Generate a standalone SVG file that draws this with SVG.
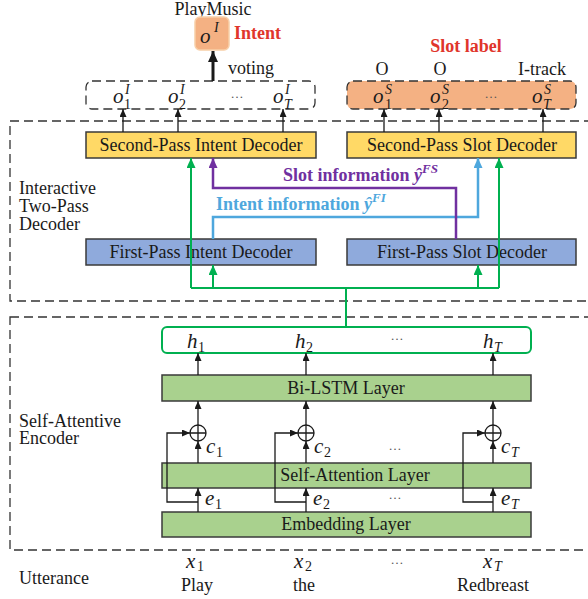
<svg xmlns="http://www.w3.org/2000/svg" width="588" height="599" viewBox="0 0 588 599">
  <style>
    .t { font-family: "Liberation Serif", "Times New Roman", serif; font-size: 18px; fill: #1a1a1a; }
    .b { font-family: "Liberation Serif", "Times New Roman", serif; font-size: 18px; font-weight: bold; }
    .m { font-family: "Liberation Serif", "Times New Roman", serif; font-size: 21px; font-style: italic; fill: #1a1a1a; }
    .sub { font-size: 14px; font-style: normal; }
    .subi { font-size: 14px; font-style: italic; }
    .dots { font-family: "Liberation Serif", serif; font-size: 13px; fill: #555; text-anchor: middle; }
    .frame { fill: none; stroke: #333; stroke-width: 1.3; stroke-dasharray: 9 5; }
    .layer { fill: #a9d18e; stroke: #3a3a3a; stroke-width: 1.5; }
    .dec2 { fill: #ffd966; stroke: #3a3a3a; stroke-width: 1.5; }
    .dec1 { fill: #8faadc; stroke: #3a3a3a; stroke-width: 1.5; }
    .arr { fill: none; stroke: #1a1a1a; stroke-width: 1.3; marker-end: url(#ah); }
    .grn { fill: none; stroke: #00b050; stroke-width: 2; }
    .ctr { text-anchor: middle; }
  </style>
  <defs>
    <marker id="ah" viewBox="0 0 10 10" refX="10" refY="5" markerWidth="8" markerHeight="7" markerUnits="userSpaceOnUse" orient="auto" preserveAspectRatio="none">
      <path d="M0,0 L10,5 L0,10 z" fill="#1a1a1a"/>
    </marker>
    <marker id="ahBig" viewBox="0 0 10 10" refX="10" refY="5" markerWidth="11" markerHeight="10" markerUnits="userSpaceOnUse" orient="auto" preserveAspectRatio="none">
      <path d="M0,0 L10,5 L0,10 z" fill="#1a1a1a"/>
    </marker>
    <marker id="ahG" viewBox="0 0 10 10" refX="10" refY="5" markerWidth="10" markerHeight="9" markerUnits="userSpaceOnUse" orient="auto" preserveAspectRatio="none">
      <path d="M0,0 L10,5 L0,10 z" fill="#00b050"/>
    </marker>
    <marker id="ahP" viewBox="0 0 10 10" refX="10" refY="5" markerWidth="10" markerHeight="9" markerUnits="userSpaceOnUse" orient="auto" preserveAspectRatio="none">
      <path d="M0,0 L10,5 L0,10 z" fill="#7030a0"/>
    </marker>
    <marker id="ahB" viewBox="0 0 10 10" refX="10" refY="5" markerWidth="10" markerHeight="9" markerUnits="userSpaceOnUse" orient="auto" preserveAspectRatio="none">
      <path d="M0,0 L10,5 L0,10 z" fill="#4ea7dd"/>
    </marker>
  </defs>

  <rect width="588" height="599" fill="#ffffff"/>

  <!-- section frames -->
  <g id="decoder-frame">
    <rect class="frame" x="10" y="121" width="590" height="180"/>
    <text class="t" x="19" y="194">Interactive</text>
    <text class="t" x="19" y="212">Two-Pass</text>
    <text class="t" x="19" y="230">Decoder</text>
  </g>
  <g id="encoder-frame">
    <rect class="frame" x="10" y="317" width="590" height="233"/>
    <text class="t" x="19" y="427">Self-Attentive</text>
    <text class="t" x="19" y="444">Encoder</text>
  </g>

  <!-- intent output -->
  <g id="intent-result">
    <text class="t ctr" x="213" y="15">PlayMusic</text>
    <rect x="195" y="17" width="34" height="33" rx="5" fill="#f4b183" stroke="#f8cfa8" stroke-width="1.5"/>
    <text class="m"><tspan x="200" y="43">o</tspan><tspan class="subi" x="214" y="32">I</tspan></text>
    <text class="b" x="234" y="39" fill="#e0352b">Intent</text>
  </g>

  <g id="intent-outputs">
    <rect x="86" y="81" width="229" height="28" rx="6" fill="none" stroke="#333" stroke-width="1.3" stroke-dasharray="9 5"/>
    <text class="m"><tspan x="113" y="103">o</tspan><tspan class="subi" x="125" y="94">I</tspan><tspan class="sub" x="124" y="109">1</tspan></text>
    <text class="m"><tspan x="168" y="103">o</tspan><tspan class="subi" x="180" y="94">I</tspan><tspan class="sub" x="179" y="109">2</tspan></text>
    <text class="dots" x="237" y="98">…</text>
    <text class="m"><tspan x="273" y="103">o</tspan><tspan class="subi" x="285" y="94">I</tspan><tspan class="subi" x="284" y="109">T</tspan></text>
    <text class="t" x="228" y="74">voting</text>
  </g>

  <g id="slot-outputs">
    <text class="b ctr" x="466" y="52" fill="#e0352b">Slot label</text>
    <text class="t ctr" x="382" y="75">O</text>
    <text class="t ctr" x="440" y="75">O</text>
    <text class="t ctr" x="542" y="75">I-track</text>
    <rect x="347" y="81" width="229" height="28" rx="6" fill="#f4b183" stroke="#333" stroke-width="1.3" stroke-dasharray="9 5"/>
    <text class="m"><tspan x="373" y="103">o</tspan><tspan class="subi" x="385" y="94">S</tspan><tspan class="sub" x="385" y="109">1</tspan></text>
    <text class="m"><tspan x="430" y="103">o</tspan><tspan class="subi" x="442" y="94">S</tspan><tspan class="sub" x="442" y="109">2</tspan></text>
    <text class="dots" x="491" y="98">…</text>
    <text class="m"><tspan x="532" y="103">o</tspan><tspan class="subi" x="544" y="94">S</tspan><tspan class="subi" x="543" y="109">T</tspan></text>
  </g>

  <!-- decoders -->
  <g id="second-pass-intent">
    <rect class="dec2" x="86" y="132" width="230" height="26"/>
    <text class="t ctr" x="201" y="151">Second-Pass Intent Decoder</text>
  </g>
  <g id="second-pass-slot">
    <rect class="dec2" x="347" y="132" width="229" height="26"/>
    <text class="t ctr" x="462" y="151">Second-Pass Slot Decoder</text>
  </g>
  <g id="first-pass-intent">
    <rect class="dec1" x="86" y="239" width="230" height="26"/>
    <text class="t ctr" x="201" y="258">First-Pass Intent Decoder</text>
  </g>
  <g id="first-pass-slot">
    <rect class="dec1" x="347" y="239" width="229" height="26"/>
    <text class="t ctr" x="462" y="258">First-Pass Slot Decoder</text>
  </g>

  <!-- encoder layers -->
  <g id="hidden-states">
    <rect x="162" y="327" width="369" height="26" rx="5" fill="#ffffff" stroke="#00b050" stroke-width="2"/>
    <text class="m"><tspan x="187" y="348">h</tspan><tspan class="sub" x="198" y="352">1</tspan></text>
    <text class="m"><tspan x="295" y="348">h</tspan><tspan class="sub" x="306" y="352">2</tspan></text>
    <text class="dots" x="397" y="340">…</text>
    <text class="m"><tspan x="483" y="348">h</tspan><tspan class="subi" x="494" y="352">T</tspan></text>
  </g>
  <g id="bilstm">
    <rect class="layer" x="162" y="375" width="369" height="26"/>
    <text class="t ctr" x="346" y="394">Bi-LSTM Layer</text>
  </g>
  <g id="self-attention">
    <rect class="layer" x="162" y="463" width="369" height="25"/>
    <text class="t ctr" x="355" y="481">Self-Attention Layer</text>
  </g>
  <g id="embedding">
    <rect class="layer" x="162" y="512" width="369" height="25"/>
    <text class="t ctr" x="346" y="530">Embedding Layer</text>
  </g>

  <g id="sum-nodes" fill="#ffffff" stroke="#1a1a1a" stroke-width="1.3">
    <g id="sum-1"><circle cx="198" cy="433" r="8"/><path d="M190,433 H206 M198,425 V441"/></g>
    <g id="sum-2"><circle cx="306" cy="433" r="8"/><path d="M298,433 H314 M306,425 V441"/></g>
    <g id="sum-T"><circle cx="493" cy="433" r="8"/><path d="M485,433 H501 M493,425 V441"/></g>
  </g>

  <!-- connectors -->
  <g id="connectors">
    <!-- voting -->
    <line x1="213" y1="81" x2="213" y2="51" stroke="#1a1a1a" stroke-width="3" marker-end="url(#ahBig)"/>
    <!-- second pass to outputs -->
    <line class="arr" x1="123" y1="132" x2="123" y2="109"/>
    <line class="arr" x1="178" y1="132" x2="178" y2="109"/>
    <line class="arr" x1="283" y1="132" x2="283" y2="109"/>
    <line class="arr" x1="384" y1="132" x2="384" y2="109"/>
    <line class="arr" x1="439" y1="132" x2="439" y2="109"/>
    <line class="arr" x1="543" y1="132" x2="543" y2="109"/>

    <!-- intent information: first-pass intent to second-pass slot -->
    <path d="M213,239 V217 H478 V158" fill="none" stroke="#4ea7dd" stroke-width="2.5" marker-end="url(#ahB)"/>
    <text class="b" x="216" y="210" fill="#4ea7dd">Intent information <tspan font-style="italic">ŷ</tspan><tspan font-style="italic" font-size="13px" dy="-8">FI</tspan></text>
    <!-- slot information: first-pass slot to second-pass intent -->
    <path d="M456,239 V188 H213 V158" fill="none" stroke="#7030a0" stroke-width="2.5" marker-end="url(#ahP)"/>
    <text class="b" x="283" y="181" fill="#7030a0">Slot information <tspan font-style="italic">ŷ</tspan><tspan font-style="italic" font-size="13px" dy="-8">FS</tspan></text>

    <!-- encoder states to decoders -->
    <path class="grn" d="M346,327 V288 M191,288 H499"/>
    <path class="grn" d="M191,288 V158" marker-end="url(#ahG)"/>
    <path class="grn" d="M213,288 V265" marker-end="url(#ahG)"/>
    <path class="grn" d="M478,288 V265" marker-end="url(#ahG)"/>
    <path class="grn" d="M499,288 V158" marker-end="url(#ahG)"/>

    <!-- Bi-LSTM to hidden states -->
    <line class="arr" x1="198" y1="375" x2="198" y2="353"/>
    <line class="arr" x1="306" y1="375" x2="306" y2="353"/>
    <line class="arr" x1="493" y1="375" x2="493" y2="353"/>
    <!-- sums to Bi-LSTM -->
    <line class="arr" x1="198" y1="425" x2="198" y2="401"/>
    <line class="arr" x1="306" y1="425" x2="306" y2="401"/>
    <line class="arr" x1="493" y1="425" x2="493" y2="401"/>
    <!-- attention context to sums -->
    <line class="arr" x1="198" y1="463" x2="198" y2="441"/>
    <line class="arr" x1="306" y1="463" x2="306" y2="441"/>
    <line class="arr" x1="493" y1="463" x2="493" y2="441"/>
    <!-- embeddings to attention -->
    <line class="arr" x1="198" y1="512" x2="198" y2="488"/>
    <line class="arr" x1="306" y1="512" x2="306" y2="488"/>
    <line class="arr" x1="493" y1="512" x2="493" y2="488"/>
    <!-- residual skips -->
    <path class="arr" d="M198,502 H167 V433 H190"/>
    <path class="arr" d="M306,502 H275 V433 H298"/>
    <path class="arr" d="M493,502 H463 V433 H485"/>
  </g>

  <g id="vector-labels">
    <text class="m"><tspan x="206" y="453">c</tspan><tspan class="sub" x="216" y="457">1</tspan></text>
    <text class="m"><tspan x="314" y="453">c</tspan><tspan class="sub" x="324" y="457">2</tspan></text>
    <text class="dots" x="395" y="450">…</text>
    <text class="m"><tspan x="501" y="453">c</tspan><tspan class="subi" x="511" y="457">T</tspan></text>
    <text class="m"><tspan x="205" y="505">e</tspan><tspan class="sub" x="215" y="509">1</tspan></text>
    <text class="m"><tspan x="313" y="505">e</tspan><tspan class="sub" x="323" y="509">2</tspan></text>
    <text class="dots" x="395" y="499">…</text>
    <text class="m"><tspan x="501" y="505">e</tspan><tspan class="subi" x="511" y="509">T</tspan></text>
  </g>

  <g id="utterance">
    <text class="t" x="19" y="584">Utterance</text>
    <text class="m"><tspan x="186" y="568">x</tspan><tspan class="sub" x="197" y="571" font-size="13px">1</tspan></text>
    <text class="m"><tspan x="294" y="568">x</tspan><tspan class="sub" x="305" y="571" font-size="13px">2</tspan></text>
    <text class="dots" x="397" y="564">…</text>
    <text class="m"><tspan x="483" y="568">x</tspan><tspan class="subi" x="494" y="571" font-size="13px">T</tspan></text>
    <text class="t ctr" x="197" y="591">Play</text>
    <text class="t ctr" x="304" y="591">the</text>
    <text class="t ctr" x="493" y="591">Redbreast</text>
  </g>
</svg>
